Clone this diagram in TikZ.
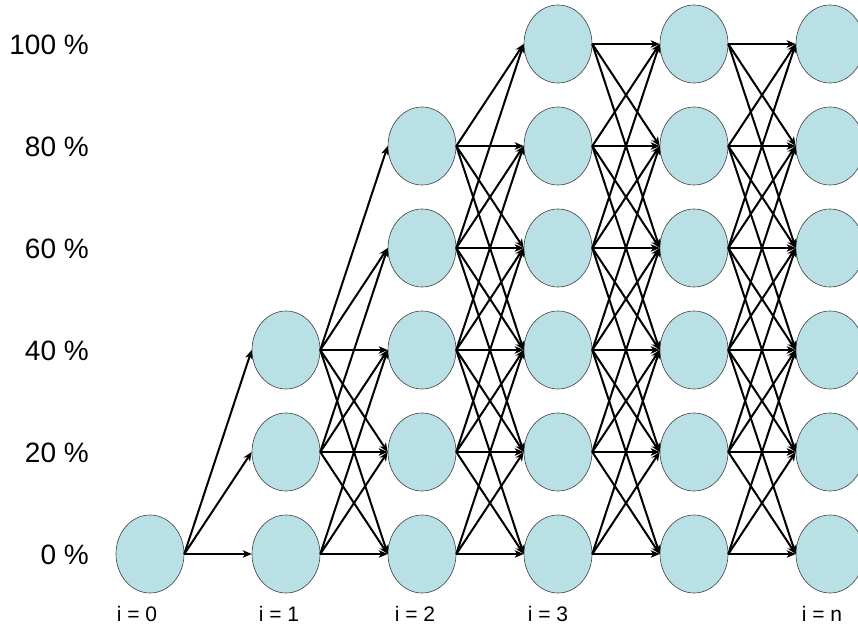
\documentclass[tikz,border=0pt]{standalone}
\usepackage{fontspec}
\setmainfont{Liberation Sans}
\usetikzlibrary{arrows.meta,shapes.geometric}
\definecolor{cellblue}{RGB}{185,224,228}

\begin{document}
\begin{tikzpicture}[x=1pt,y=-1pt,
  st/.style={ellipse,draw=black!75,line width=0.6pt,fill=cellblue,minimum width=68pt,minimum height=78pt,inner sep=0pt},
  e/.style={-{Stealth[length=9pt,width=7.5pt,inset=2.5pt]},line width=2pt},
  lab/.style={font=\fontsize{21}{24}\selectfont,inner sep=0pt},
  pct/.style={font=\fontsize{28}{32}\selectfont,inner sep=0pt,anchor=east}]
  \useasboundingbox (0,0) rectangle (858,628);
  % states: column c holds levels 0..min(2c,5)
  \foreach \c in {0,...,5} {
    \pgfmathtruncatemacro\m{min(2*\c,5)}
    \foreach \j in {0,...,\m}
      \node[st] (n\c-\j) at ({150+136*\c},{554-102*\j}) {};
  }
  % transitions j -> j-2..j+2
  \foreach \c in {0,...,4} {
    \pgfmathtruncatemacro\d{\c+1}
    \pgfmathtruncatemacro\m{min(2*\c,5)}
    \pgfmathtruncatemacro\mm{min(2*\d,5)}
    \foreach \j in {0,...,\m} {
      \pgfmathtruncatemacro\lo{max(0,\j-2)}
      \pgfmathtruncatemacro\hi{min(\mm,\j+2)}
      \foreach \k in {\lo,...,\hi}
        \draw[e] (n\c-\j.east) -- (n\d-\k.west);
    }
  }
  % levels
  \foreach \j/\t in {0/0,1/20,2/40,3/60,4/80,5/100}
    \node[pct] (p\j) at (89,{555-102*\j}) {\t{} \%};
  % steps
  \foreach \name/\xx/\t in {i0/137/0,i1/279/1,i2/415/2,i3/548/3,in/822/n}
    \node[lab] (\name) at (\xx,614) {i = \t};
\end{tikzpicture}
\end{document}
